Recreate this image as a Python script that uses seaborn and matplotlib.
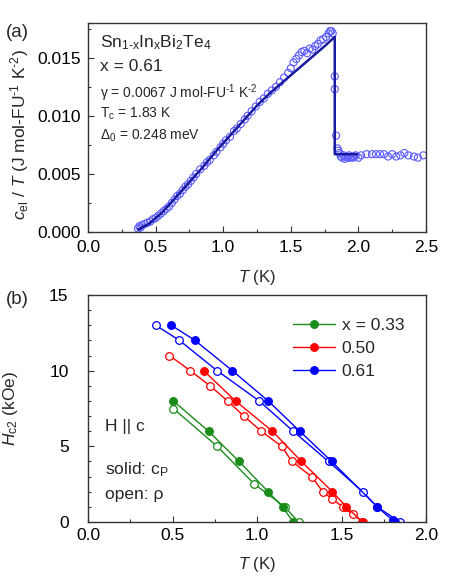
import numpy as np
import pandas as pd
import seaborn as sns
import matplotlib.pyplot as plt
from matplotlib.ticker import MultipleLocator

# ---- panel (a): specific heat, x = 0.61 ----
cel_T = [0.37, 0.38, 0.39, 0.40, 0.42, 0.44, 0.46, 0.48, 0.50, 0.52,
         0.54, 0.56, 0.58, 0.60, 0.62, 0.64, 0.66, 0.68, 0.70, 0.72,
         0.74, 0.76, 0.78, 0.80, 0.83, 0.86, 0.88, 0.90, 0.93, 0.95,
         0.98, 1.00, 1.02, 1.05, 1.08, 1.10, 1.13, 1.16, 1.18, 1.21,
         1.24, 1.27, 1.30, 1.33, 1.36, 1.39, 1.42, 1.45, 1.48, 1.50,
         1.52, 1.54, 1.56, 1.58, 1.60, 1.62, 1.64, 1.66, 1.68, 1.70,
         1.72, 1.74, 1.76, 1.78, 1.79, 1.80, 1.81,
         1.825, 1.825, 1.835, 1.845, 1.85, 1.86, 1.87, 1.88, 1.89, 1.90,
         1.91, 1.92, 1.93, 1.94, 1.95, 1.96, 1.97, 1.98, 2.00, 2.02,
         2.06, 2.10, 2.13, 2.16, 2.19, 2.22, 2.25, 2.28, 2.31, 2.34,
         2.37, 2.41, 2.44, 2.48]
cel_val = [0.0003, 0.0005, 0.0004, 0.0006, 0.0007, 0.0008, 0.0009, 0.0011, 0.0012, 0.0014,
           0.0016, 0.0018, 0.0020, 0.0022, 0.0025, 0.0028, 0.0031, 0.0033, 0.0036, 0.0039,
           0.0041, 0.0044, 0.0047, 0.0050, 0.0054, 0.0057, 0.0060, 0.0062, 0.0066, 0.0069,
           0.0073, 0.0076, 0.0079, 0.0082, 0.0087, 0.0089, 0.0093, 0.0097, 0.0100, 0.0104,
           0.0108, 0.0112, 0.0115, 0.0119, 0.0122, 0.0125, 0.0129, 0.0133, 0.0137, 0.0141,
           0.0146, 0.0149, 0.0152, 0.0155, 0.0156, 0.0154, 0.0158, 0.0157, 0.0160, 0.0162,
           0.0165, 0.0166, 0.0168, 0.0171, 0.0173, 0.0173, 0.0171,
           0.0134, 0.0123, 0.0083, 0.0072, 0.0070, 0.0068, 0.0065, 0.0064, 0.0066, 0.0063,
           0.0065, 0.0064, 0.0066, 0.0064, 0.0065, 0.0064, 0.0065, 0.0066, 0.0064, 0.0066,
           0.0067, 0.0067, 0.0067, 0.0067, 0.0067, 0.0065, 0.0067, 0.0065, 0.0066, 0.0068,
           0.0066, 0.0065, 0.0064, 0.0066]

# BCS fit curve
fit_T = [0.37, 0.45, 0.55, 0.643, 0.75, 0.85, 0.95, 1.05, 1.15, 1.259,
         1.35, 1.45, 1.55, 1.65, 1.75, 1.825, 1.825, 1.99]
fit_val = [0.0002, 0.0007, 0.0017, 0.0029, 0.0043, 0.0056, 0.0070, 0.0083, 0.0096, 0.0110,
           0.0120, 0.0130, 0.0140, 0.0150, 0.0160, 0.0168, 0.0067, 0.0067]

# ---- panel (b): Hc2(T) ----
series = ['x = 0.33', '0.50', '0.61']
colors = ['#1a8c1a', '#ff0000', '#0000ff']

solid_T = [[0.505, 0.713, 0.894, 1.066, 1.151, 1.214],
           [0.684, 0.873, 1.091, 1.263, 1.446, 1.529, 1.624],
           [0.493, 0.633, 0.854, 1.066, 1.253, 1.442, 1.711, 1.805, 1.815]]
solid_H = [[8, 6, 4, 2, 1, 0],
           [10, 8, 6, 4, 2, 1, 0],
           [13, 12, 10, 8, 6, 4, 1, 0.1, 0]]

open_T = [[0.505, 0.764, 0.985, 1.164, 1.246],
          [0.482, 0.605, 0.722, 0.826, 0.922, 1.025, 1.146, 1.206, 1.323, 1.389,
           1.446, 1.509, 1.567, 1.628],
          [0.401, 0.541, 0.764, 1.013, 1.214, 1.423, 1.626, 1.711, 1.845]]
open_H = [[7.5, 5, 2.5, 1, 0],
          [11, 10, 9, 8, 7, 6, 5, 4, 3, 2, 1.5, 1, 0.5, 0],
          [13, 12, 10, 8, 6, 4, 2, 1, 0]]

sns.set_theme(style='ticks')
plt.rcParams['font.family'] = ['Liberation Sans', 'DejaVu Sans']
plt.rcParams['mathtext.fontset'] = 'custom'
plt.rcParams['mathtext.rm'] = 'Liberation Sans'
plt.rcParams['mathtext.it'] = 'Liberation Sans:italic'
plt.rcParams['mathtext.sf'] = 'Liberation Sans'
plt.rcParams['axes.edgecolor'] = '#333333'
plt.rcParams['axes.linewidth'] = 1.0

fig = plt.figure(figsize=(4.5, 5.78), dpi=100)
ax1 = fig.add_axes([0.1956, 0.5986, 0.7511, 0.3617])
ax2 = fig.add_axes([0.1956, 0.0969, 0.7511, 0.3927])

# panel a
df_a = pd.DataFrame({'T': cel_T, 'c': cel_val})
sns.scatterplot(data=df_a, x='T', y='c', ax=ax1, marker='o', s=26,
                facecolors='none', edgecolor='#5a5aff', linewidth=0.8, zorder=2)
df_fit = pd.DataFrame({'T': fit_T, 'c': fit_val})
sns.lineplot(data=df_fit, x='T', y='c', ax=ax1, sort=False, estimator=None,
             color='#1a1aa0', linewidth=1.8, zorder=3)

ax1.set_xlim(0, 2.5)
ax1.set_ylim(0, 0.018)
ax1.xaxis.set_major_locator(MultipleLocator(0.5))
ax1.xaxis.set_minor_locator(MultipleLocator(0.25))
ax1.yaxis.set_major_locator(MultipleLocator(0.005))
ax1.yaxis.set_minor_locator(MultipleLocator(0.0025))
ax1.yaxis.set_major_formatter(plt.FormatStrFormatter('%.3f'))
ax1.xaxis.set_major_formatter(plt.FormatStrFormatter('%.1f'))
ax1.set_xlabel('$T$ (K)', fontsize=12, labelpad=9)
ax1.set_ylabel('$c_{\\rm el}$ / $T$ (J mol-FU$^{\\text{-1}}$ K$^{\\text{-2}}$)', fontsize=12.5)
ax1.yaxis.set_label_coords(-0.17, 0.465)

tx = 0.036
ax1.text(tx, 0.906, 'Sn$_{\\rm 1\\text{-}x}$In$_{\\rm x}$Bi$_{\\rm 2}$Te$_{\\rm 4}$',
         transform=ax1.transAxes, fontsize=12.5, va='center')
ax1.text(tx, 0.791, 'x = 0.61', transform=ax1.transAxes, fontsize=12.5, va='center')
ax1.text(tx, 0.666, 'γ = 0.0067 J mol-FU$^{\\text{-1}}$ K$^{\\text{-2}}$', transform=ax1.transAxes,
         fontsize=10, va='center')
ax1.text(tx, 0.566, 'T$_{\\rm c}$ = 1.83 K', transform=ax1.transAxes, fontsize=10, va='center')
ax1.text(tx, 0.461, 'Δ$_{\\rm 0}$ = 0.248 meV', transform=ax1.transAxes, fontsize=10, va='center')

# panel b
for i, name in enumerate(series):
    c = colors[i]
    df_s = pd.DataFrame({'T': solid_T[i], 'H': solid_H[i]})
    df_o = pd.DataFrame({'T': open_T[i], 'H': open_H[i]})
    sns.lineplot(data=df_o, x='T', y='H', ax=ax2, sort=False, estimator=None,
                 color=c, linewidth=1.0, marker='o', markersize=5.5,
                 markerfacecolor='white', markeredgecolor=c, markeredgewidth=0.9)
    sns.lineplot(data=df_s, x='T', y='H', ax=ax2, sort=False, estimator=None,
                 color=c, linewidth=1.0, marker='o', markersize=5.5,
                 markerfacecolor=c, markeredgecolor=c, markeredgewidth=0.9,
                 label=name)

ax2.set_xlim(0, 2.0)
ax2.set_ylim(0, 15)
ax2.xaxis.set_major_locator(MultipleLocator(0.5))
ax2.xaxis.set_minor_locator(MultipleLocator(0.25))
ax2.yaxis.set_major_locator(MultipleLocator(5))
ax2.yaxis.set_minor_locator(MultipleLocator(1))
ax2.xaxis.set_major_formatter(plt.FormatStrFormatter('%.1f'))
ax2.set_xlabel('$T$ (K)', fontsize=12, labelpad=9)
ax2.set_ylabel('$H_{\\rm c2}$ (kOe)', fontsize=12.5)
ax2.yaxis.set_label_coords(-0.2, 0.5)

leg = ax2.legend(loc='upper left', bbox_to_anchor=(0.607, 0.90), frameon=False,
                 fontsize=12.5, handlelength=2.4, handletextpad=0.4, labelspacing=0.47,
                 borderaxespad=0, borderpad=0)

ax2.text(0.098, 6.3, 'H || c', fontsize=12.5, va='center')
ax2.text(0.098, 3.45, 'solid: c$_{\\rm P}$', fontsize=12.5, va='center')
ax2.text(0.098, 1.8, 'open: ρ', fontsize=12.5, va='center')

for ax in (ax1, ax2):
    ax.tick_params(which='both', direction='in', top=False, right=False,
                   labelsize=12.5, colors='#333333', labelcolor='black')
    ax.tick_params(which='major', length=4, width=0.8)
    ax.tick_params(which='minor', length=2, width=0.8)
    for s in ax.spines.values():
        s.set_visible(True)
ax1.tick_params(axis='x', which='major', pad=6)
ax1.tick_params(axis='y', which='major', pad=5)
ax2.tick_params(axis='y', which='major', pad=14)
ax2.tick_params(axis='x', which='major', pad=4)

fig.text(0.012, 0.943, '(a)', fontsize=13.5, va='center')
fig.text(0.012, 0.481, '(b)', fontsize=13.5, va='center')

fig.savefig('out.png', dpi=100)
